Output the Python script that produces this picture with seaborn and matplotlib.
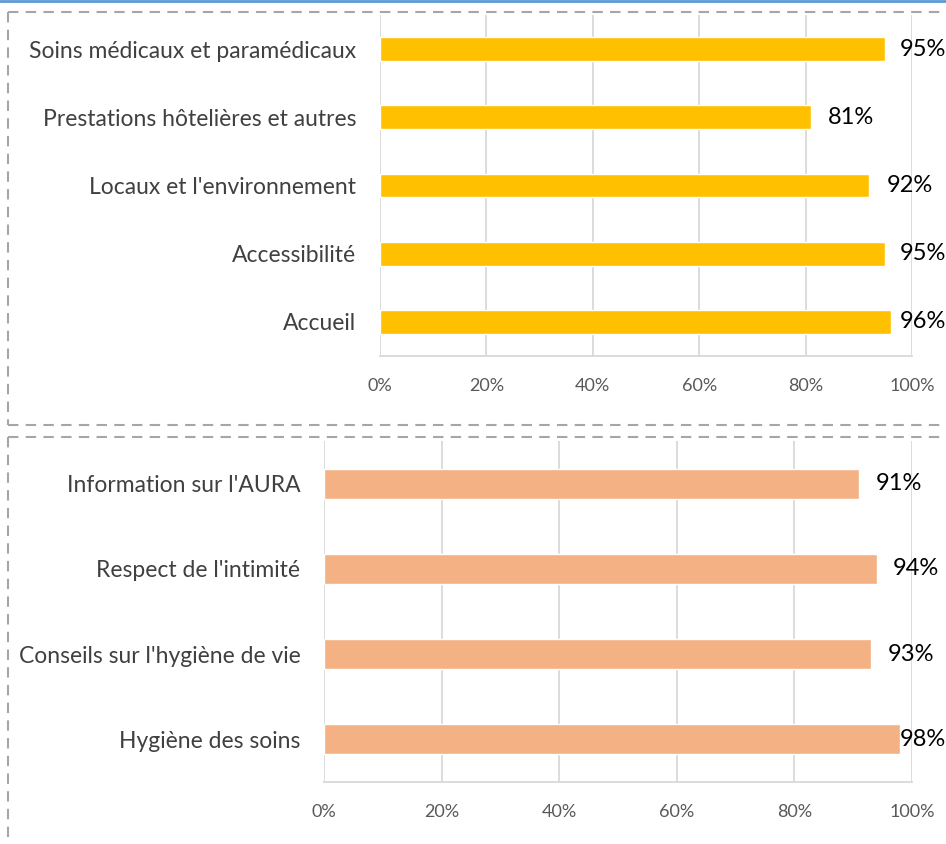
import matplotlib
matplotlib.use("Agg")
import matplotlib.pyplot as plt
import pandas as pd
import seaborn as sns
from matplotlib.lines import Line2D
from matplotlib.ticker import PercentFormatter

# top chart: satisfaction by service
top_labels = [
    "Soins médicaux et paramédicaux",
    "Prestations hôtelières et autres",
    "Locaux et l'environnement",
    "Accessibilité",
    "Accueil",
]
top_values = [0.95, 0.81, 0.92, 0.95, 0.96]

# bottom chart: care-related items
bottom_labels = [
    "Information sur l'AURA",
    "Respect de l'intimité",
    "Conseils sur l'hygiène de vie",
    "Hygiène des soins",
]
bottom_values = [0.91, 0.94, 0.93, 0.98]

x_ticks = [0, 0.2, 0.4, 0.6, 0.8, 1.0]

YELLOW = "#FFC000"
ORANGE = "#F4B183"
GRID = "#D9D9D9"
DASH = "#A6A6A6"

W, H = 946, 844


def _draw_panel(ax, labels, values, color, pad, cap):
	df = pd.DataFrame({"label": labels, "value": values})
	sns.barplot(
		data=df,
		x="value",
		y="label",
		orient="h",
		color=color,
		width=0.35,
		saturation=1,
		ax=ax,
	)
	ax.set_xlim(0, 1)
	ax.set_ylim(len(labels) - 0.5, -0.5)
	ax.set_xticks(x_ticks)
	ax.xaxis.set_major_formatter(PercentFormatter(1.0, decimals=0))
	ax.set_xlabel("")
	ax.set_ylabel("")
	ax.set_axisbelow(True)
	ax.grid(axis="x", color=GRID, linewidth=1.3)
	ax.grid(axis="y", visible=False)
	for side in ("top", "right", "left"):
		ax.spines[side].set_visible(False)
	ax.spines["bottom"].set_color(GRID)
	ax.spines["bottom"].set_linewidth(1.3)
	ax.tick_params(axis="x", length=5, width=1.3, color=GRID, pad=11,
		labelsize=13, labelcolor="#595959")
	ax.tick_params(axis="y", length=0, pad=17, labelsize=16.5, labelcolor="#404040")
	for i, v in enumerate(values):
		ax.text(min(v + pad, cap), i, f"{round(v * 100)}%", va="center", ha="left",
			fontsize=17, color="black")


sns.set_theme(style="white")
plt.rcParams["font.family"] = ["Lato", "DejaVu Sans"]

fig = plt.figure(figsize=(W / 100, H / 100), dpi=100)

ax_top = fig.add_axes([380 / W, 1 - 356 / H, 532 / W, 341 / H])
_draw_panel(ax_top, top_labels, top_values, YELLOW, 0.032, 0.977)

ax_bot = fig.add_axes([324 / W, 1 - 782 / H, 588 / W, 341 / H])
_draw_panel(ax_bot, bottom_labels, bottom_values, ORANGE, 0.028, 0.98)

# frame decorations
def _px(x, y):
	return x / W, 1 - y / H

dash_kw = dict(color=DASH, linewidth=1.5, linestyle=(0, (5, 3.5)))
for (x0, y0), (x1, y1) in [
	((8, 12), (W, 12)),
	((8, 12), (8, 425)),
	((8, 425), (W, 425)),
	((8, 437), (W, 437)),
	((8, 437), (8, H)),
]:
	a, b = _px(x0, y0)
	c, d = _px(x1, y1)
	fig.add_artist(Line2D([a, c], [b, d], transform=fig.transFigure, **dash_kw))

a, b = _px(0, 1)
c, d = _px(W, 1)
fig.add_artist(Line2D([a, c], [b, d], transform=fig.transFigure, color="#5B9BD5", linewidth=2))

fig.savefig("out.png", dpi=100)
